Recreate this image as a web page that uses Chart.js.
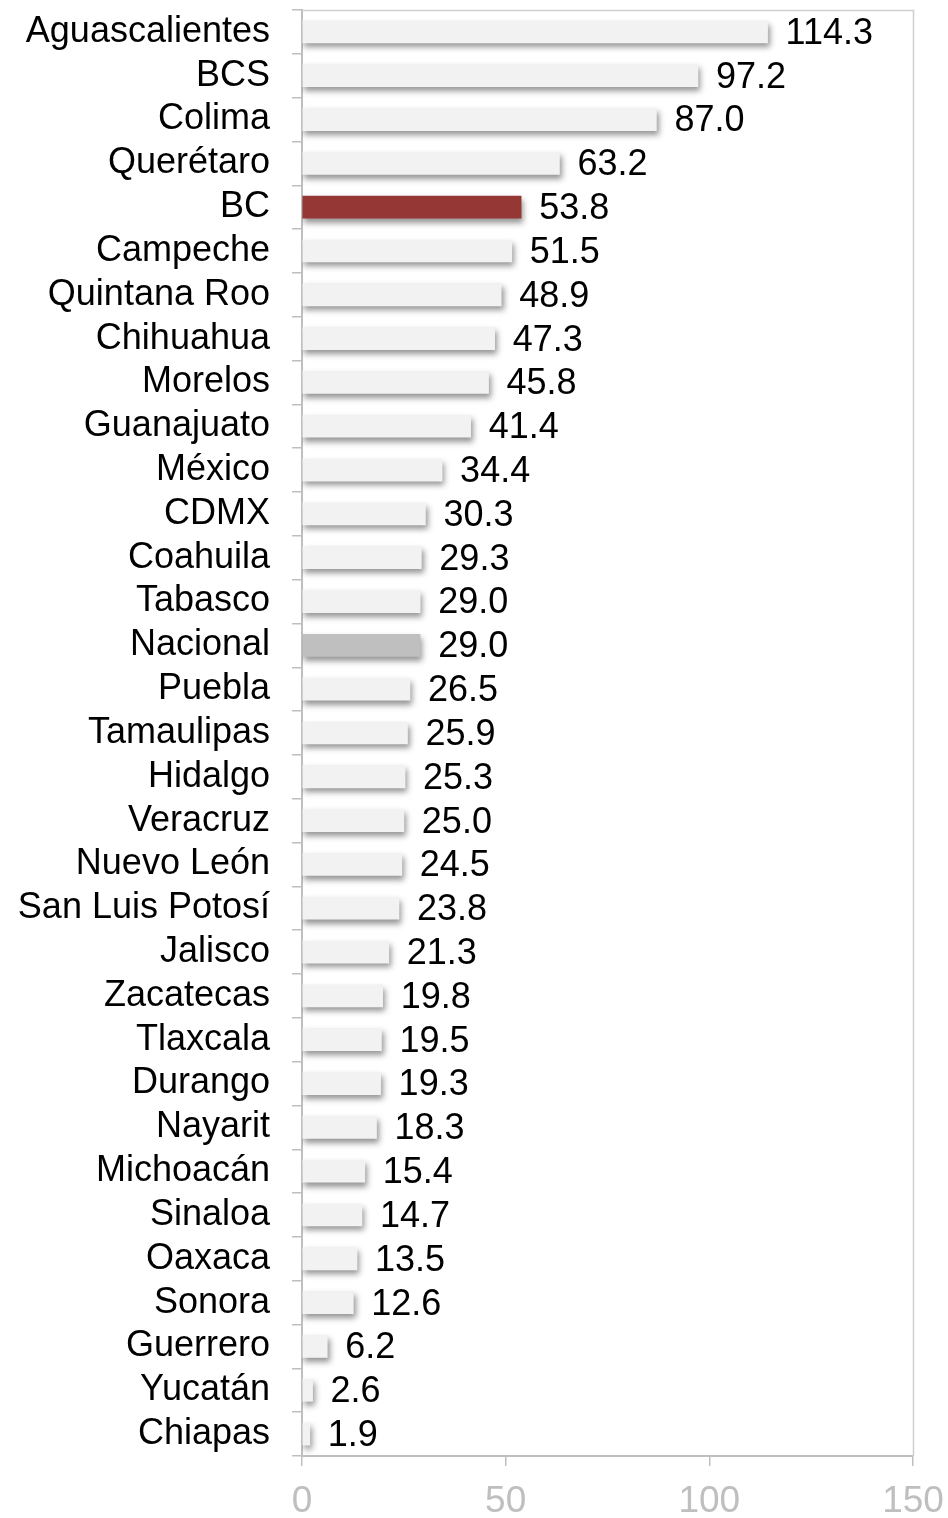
<!DOCTYPE html>
<html>
<head>
<meta charset="utf-8">
<script src="https://cdn.jsdelivr.net/npm/chart.js@4/dist/chart.umd.min.js"></script>
<style>
  html, body { margin: 0; padding: 0; background: #ffffff; }
  #wrap { width: 948px; height: 1518px; position: relative; }
</style>
</head>
<body>
<div id="wrap"><canvas id="chart"></canvas></div>
<script>
// states, top to bottom
var states = [
  'Aguascalientes', 'BCS', 'Colima', 'Querétaro', 'BC', 'Campeche',
  'Quintana Roo', 'Chihuahua', 'Morelos', 'Guanajuato', 'México', 'CDMX',
  'Coahuila', 'Tabasco', 'Nacional', 'Puebla', 'Tamaulipas', 'Hidalgo',
  'Veracruz', 'Nuevo León', 'San Luis Potosí', 'Jalisco', 'Zacatecas',
  'Tlaxcala', 'Durango', 'Nayarit', 'Michoacán', 'Sinaloa', 'Oaxaca',
  'Sonora', 'Guerrero', 'Yucatán', 'Chiapas'
];
var values = [
  114.3, 97.2, 87.0, 63.2, 53.8, 51.5,
  48.9, 47.3, 45.8, 41.4, 34.4, 30.3,
  29.3, 29.0, 29.0, 26.5, 25.9, 25.3,
  25.0, 24.5, 23.8, 21.3, 19.8,
  19.5, 19.3, 18.3, 15.4, 14.7, 13.5,
  12.6, 6.2, 2.6, 1.9
];
var xTicks = [0, 50, 100, 150];

var FONT = "'Liberation Sans', Arial, Helvetica, sans-serif";

var colors = states.map(function (s) {
  if (s === 'BC') return '#953735';
  if (s === 'Nacional') return '#BFBFBF';
  return '#F2F2F2';
});

// soft drop shadow under the bars
var shadowPlugin = {
  id: 'barShadow',
  beforeDatasetsDraw: function (chart) {
    var ctx = chart.ctx;
    ctx.save();
    ctx.shadowColor = 'rgba(0,0,0,0.42)';
    ctx.shadowBlur = 6;
    ctx.shadowOffsetX = 2;
    ctx.shadowOffsetY = 4;
  },
  afterDatasetsDraw: function (chart) {
    chart.ctx.restore();
  }
};

// frame + value labels
var labelPlugin = {
  id: 'valueLabels',
  afterDraw: function (chart) {
    var ctx = chart.ctx;
    var area = chart.chartArea;
    ctx.save();
    ctx.strokeStyle = '#D0D0D0';
    ctx.lineWidth = 1.5;
    ctx.beginPath();
    ctx.moveTo(area.left, area.top + 0.5);
    ctx.lineTo(area.right + 0.5, area.top + 0.5);
    ctx.lineTo(area.right + 0.5, area.bottom);
    ctx.stroke();

    ctx.fillStyle = '#000000';
    ctx.font = '36px ' + FONT;
    ctx.textAlign = 'left';
    ctx.textBaseline = 'middle';
    var meta = chart.getDatasetMeta(0);
    meta.data.forEach(function (bar, i) {
      ctx.fillText(values[i].toFixed(1), bar.x + 18, bar.y + 2);
    });
    ctx.restore();
  }
};

new Chart(document.getElementById('chart').getContext('2d'), {
  type: 'bar',
  data: {
    labels: states,
    datasets: [{
      data: values,
      backgroundColor: colors,
      borderWidth: 0,
      barThickness: 22
    }]
  },
  options: {
    indexAxis: 'y',
    responsive: true,
    maintainAspectRatio: false,
    animation: false,
    layout: { padding: { top: 10, right: 35, left: 0, bottom: 0 } },
    plugins: {
      legend: { display: false },
      tooltip: { enabled: false }
    },
    scales: {
      y: {
        grid: {
          drawOnChartArea: false,
          offset: true,
          tickLength: 10,
          color: '#BFBFBF',
          lineWidth: 1.5
        },
        border: { color: '#BFBFBF', width: 2 },
        ticks: {
          color: '#000000',
          font: { family: FONT, size: 36 },
          padding: 22,
          autoSkip: false
        },
        afterFit: function (scale) {
          scale.width = 302;
          scale.paddingTop = 0;
          scale.paddingBottom = 0;
        }
      },
      x: {
        min: 0,
        max: 150,
        afterBuildTicks: function (scale) {
          scale.ticks = xTicks.map(function (v) { return { value: v }; });
        },
        grid: {
          drawOnChartArea: false,
          tickLength: 10,
          color: '#BFBFBF',
          lineWidth: 1.5
        },
        border: { color: '#BFBFBF', width: 2 },
        ticks: {
          color: '#BFBFBF',
          font: { family: FONT, size: 37 },
          padding: 14
        },
        afterFit: function (scale) {
          scale.height = 62;
          scale.paddingLeft = 0;
          scale.paddingRight = 0;
        }
      }
    }
  },
  plugins: [shadowPlugin, labelPlugin]
});
</script>
</body>
</html>
